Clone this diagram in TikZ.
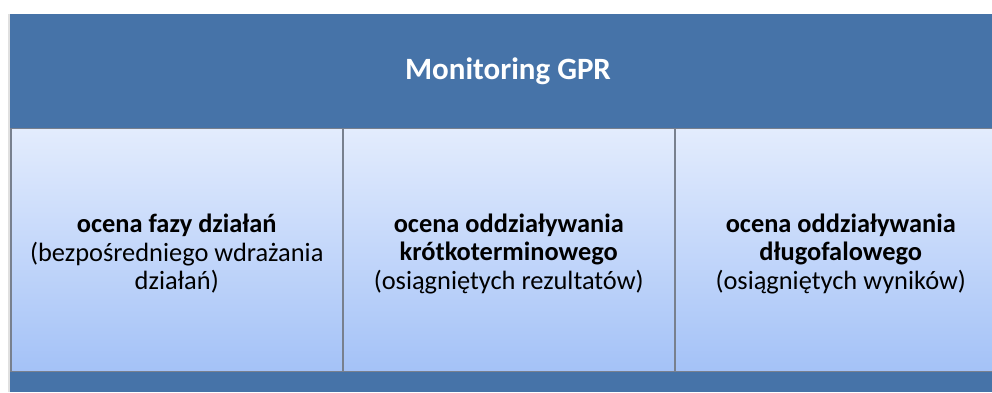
\documentclass[tikz,border=0pt]{standalone}
\usepackage{fontspec}
\setmainfont{Carlito}
\definecolor{bandblue}{RGB}{70,115,168}
\definecolor{boxtop}{RGB}{227,236,253}
\definecolor{boxbot}{RGB}{164,194,247}
\definecolor{boxline}{RGB}{120,128,142}
\tikzset{
  band/.style={fill=bandblue, draw=none},
  colbox/.style={draw=boxline, line width=1.5pt, top color=boxtop, bottom color=boxbot,
    minimum width=332pt, minimum height=243pt, inner sep=0pt, anchor=south west},
  coltext/.style={align=center, font=\fontsize{26.4}{28.5}\selectfont, text=black},
  titletext/.style={font=\fontsize{31}{34}\selectfont\bfseries, text=white}
}
\begin{document}
\begin{tikzpicture}[x=1pt,y=1pt]
\useasboundingbox (0,0) rectangle (992,392);
\clip (0,0) rectangle (992,392);
\fill[white] (0,0) rectangle (992,392);
% shadow
\fill[black!12] (8,0) rectangle (10,378);
% top band
\path[band] (10,263) rectangle (1006,378);
\node[titletext] (title) at (508,320.5) {Monitoring GPR};
% bottom band
\path[band] (10,0) rectangle (1006,20);
% columns
\node[colbox] (c1) at (10,20) {};
\node[colbox] (c2) at (342,20) {};
\node[colbox] (c3) at (674,20) {};
\node[coltext] (t1) at ([yshift=-4pt]c1.center) {\textbf{ocena fazy działań}\\(bezpośredniego wdrażania\\działań)};
\node[coltext] (t2) at ([yshift=-4pt]c2.center) {\textbf{ocena oddziaływania}\\\textbf{krótkoterminowego}\\(osiągniętych rezultatów)};
\node[coltext] (t3) at ([yshift=-4pt]c3.center) {\textbf{ocena oddziaływania}\\\textbf{długofalowego}\\(osiągniętych wyników)};
\end{tikzpicture}
\end{document}
